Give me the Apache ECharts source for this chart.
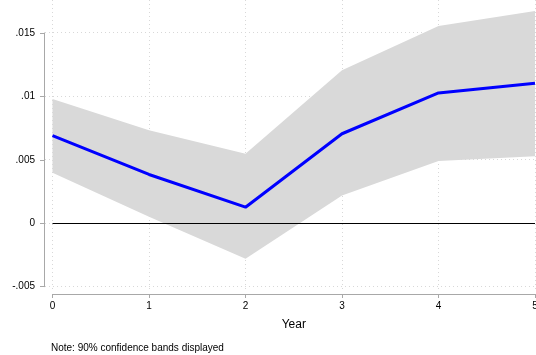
<!DOCTYPE html>
<html>
<head>
<meta charset="utf-8">
<script src="https://cdn.jsdelivr.net/npm/echarts@6/dist/echarts.min.js"></script>
<style>
  html, body { margin: 0; padding: 0; background: #fff; }
  #chart { width: 536px; height: 355px; }
</style>
</head>
<body>
<div id="chart"></div>
<script>
// Impulse response by year with 90% confidence band
const years = ['0', '1', '2', '3', '4', '5'];
const estimate = [0.00687, 0.00381, 0.00123, 0.00702, 0.01024, 0.01100];
const upper = [0.00976, 0.00729, 0.00545, 0.01203, 0.01551, 0.01669];
const lower = [0.00395, 0.00048, -0.00284, 0.00216, 0.00487, 0.00524];
const yTicks = [-0.005, 0, 0.005, 0.01, 0.015];
const yTickLabels = ['-.005', '0', '.005', '.01', '.015'];
const noteText = 'Note: 90% confidence bands displayed';

// band thickness stacked on the lower bound
const bandWidth = upper.map((u, i) => u - lower[i]);

// full plot-region value range
const yMin = -0.005455;
const yMax = 0.017564;

const axisGray = '#a8a8a8';
const gridDot = { color: '#d8d8d8', type: [1, 3], width: 1 };

const chart = echarts.init(document.getElementById('chart'), null, { renderer: 'canvas' });

chart.setOption({
  animation: false,
  backgroundColor: '#fff',
  textStyle: { fontFamily: 'Liberation Sans, Arial, Helvetica, sans-serif', color: '#000' },
  title: {
    text: noteText,
    left: 46,
    top: 338,
    textStyle: { fontSize: 10, fontWeight: 'normal', color: '#000' }
  },
  grid: [
    // main plotting area
    { left: 52.5, right: 1, top: 0, bottom: 63, containLabel: false, outerBoundsMode: 'none' },
    // y axis spanning the labelled ticks only
    { left: 52.5, right: 1, top: 33, bottom: 68.3, containLabel: false, outerBoundsMode: 'none' },
    // background for horizontal grid lines
    { left: 45, right: 0, top: 0, bottom: 63, containLabel: false, outerBoundsMode: 'none' }
  ],
  xAxis: [
    {
      gridIndex: 0,
      type: 'category',
      data: years,
      boundaryGap: false,
      offset: 2,
      axisLine: { show: true, onZero: false, lineStyle: { color: axisGray, width: 1 } },
      axisTick: { show: true, length: 4, lineStyle: { color: axisGray } },
      axisLabel: { fontSize: 10, color: '#000', margin: 7 },
      splitLine: { show: true, lineStyle: gridDot },
      name: 'Year',
      nameLocation: 'middle',
      nameGap: 25,
      nameTextStyle: { fontSize: 12, color: '#000' }
    },
    { gridIndex: 1, type: 'value', min: 0, max: 1, show: false },
    { gridIndex: 2, type: 'value', min: 0, max: 1, show: false }
  ],
  yAxis: [
    { gridIndex: 0, type: 'value', min: yMin, max: yMax, show: false },
    {
      gridIndex: 1,
      type: 'value',
      min: -0.005,
      max: 0.015,
      interval: 0.005,
      offset: 8.5,
      axisLine: { show: true, onZero: false, lineStyle: { color: axisGray, width: 1 } },
      axisTick: { show: true, length: 4, lineStyle: { color: axisGray } },
      axisLabel: {
        fontSize: 10,
        color: '#000',
        margin: 9,
        formatter: v => {
          const i = yTicks.findIndex(t => Math.abs(t - v) < 1e-9);
          return i >= 0 ? yTickLabels[i] : '';
        }
      },
      splitLine: { show: false }
    },
    {
      gridIndex: 2,
      type: 'value',
      min: yMin,
      max: yMax,
      axisLine: { show: false },
      axisLabel: { show: false },
      axisTick: { show: false, customValues: yTicks },
      splitLine: { show: true, lineStyle: gridDot }
    }
  ],
  series: [
    {
      name: 'lower',
      type: 'line',
      xAxisIndex: 0,
      yAxisIndex: 0,
      data: lower,
      stack: 'ci',
      stackStrategy: 'all',
      symbol: 'none',
      silent: true,
      lineStyle: { width: 0, opacity: 0 },
      z: 2
    },
    {
      name: 'band',
      type: 'line',
      xAxisIndex: 0,
      yAxisIndex: 0,
      data: bandWidth,
      stack: 'ci',
      stackStrategy: 'all',
      symbol: 'none',
      silent: true,
      lineStyle: { width: 0, opacity: 0 },
      areaStyle: { color: '#d9d9d9', opacity: 1 },
      z: 2
    },
    {
      name: 'estimate',
      type: 'line',
      xAxisIndex: 0,
      yAxisIndex: 0,
      data: estimate,
      symbol: 'none',
      lineStyle: { color: '#0000ff', width: 3 },
      z: 4,
      markLine: {
        silent: true,
        symbol: 'none',
        label: { show: false },
        lineStyle: { color: '#000', width: 1.2, type: 'solid' },
        data: [{ yAxis: 0 }]
      }
    }
  ]
});
</script>
</body>
</html>
